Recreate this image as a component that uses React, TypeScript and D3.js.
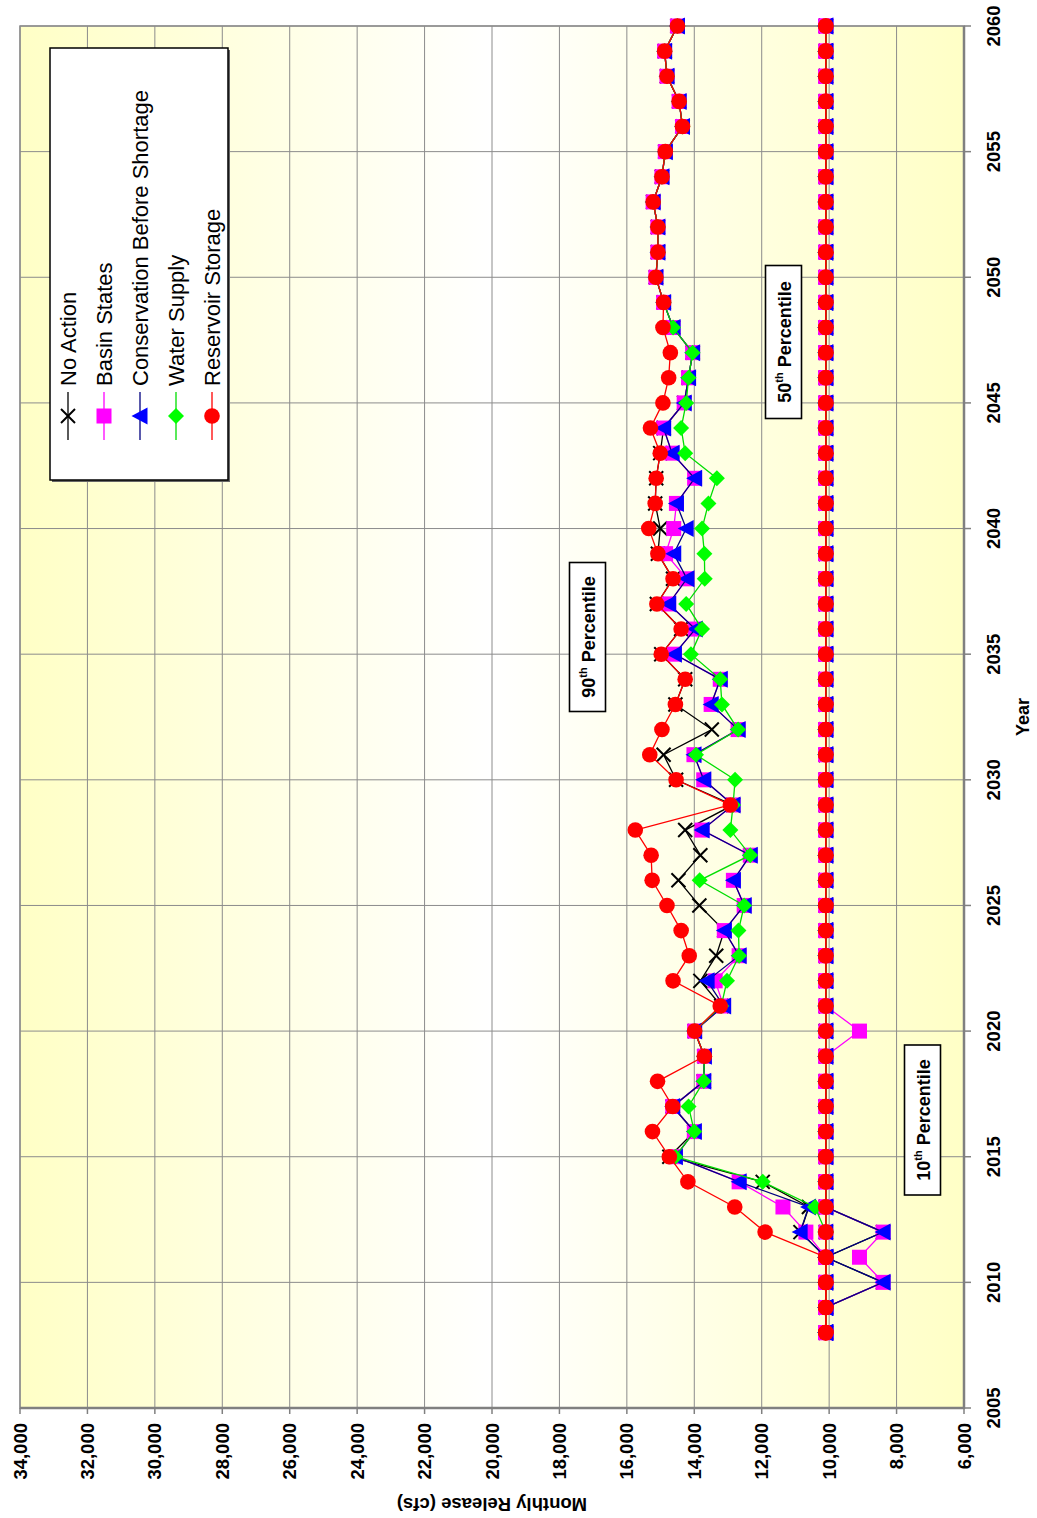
import React from 'react';
import * as d3 from 'd3';

const years = [2008, 2009, 2010, 2011, 2012, 2013, 2014, 2015, 2016, 2017, 2018, 2019, 2020, 2021, 2022, 2023, 2024, 2025, 2026, 2027, 2028, 2029, 2030, 2031, 2032, 2033, 2034, 2035, 2036, 2037, 2038, 2039, 2040, 2041, 2042, 2043, 2044, 2045, 2046, 2047, 2048, 2049, 2050, 2051, 2052, 2053, 2054, 2055, 2056, 2057, 2058, 2059, 2060];
const yearTicks = [2005, 2010, 2015, 2020, 2025, 2030, 2035, 2040, 2045, 2050, 2055, 2060];
const valueTicks = [6000, 8000, 10000, 12000, 14000, 16000, 18000, 20000, 22000, 24000, 26000, 28000, 30000, 32000, 34000];
const valueTickLabels = ['6,000', '8,000', '10,000', '12,000', '14,000', '16,000', '18,000', '20,000', '22,000', '24,000', '26,000', '28,000', '30,000', '32,000', '34,000'];
const seriesNames = ['No Action', 'Basin States', 'Conservation Before Shortage', 'Water Supply', 'Reservoir Storage'];

// 10th percentile
const noActionP10 = [10100, 10100, 8400, 10100, 8400, 10100, 10100, 10100, 10100, 10100, 10100, 10100, 10100, 10100, 10100, 10100, 10100, 10100, 10100, 10100, 10100, 10100, 10100, 10100, 10100, 10100, 10100, 10100, 10100, 10100, 10100, 10100, 10100, 10100, 10100, 10100, 10100, 10100, 10100, 10100, 10100, 10100, 10100, 10100, 10100, 10100, 10100, 10100, 10100, 10100, 10100, 10100, 10100];
const basinStatesP10 = [10100, 10100, 8400, 9100, 8400, 10100, 10100, 10100, 10100, 10100, 10100, 10100, 9100, 10100, 10100, 10100, 10100, 10100, 10100, 10100, 10100, 10100, 10100, 10100, 10100, 10100, 10100, 10100, 10100, 10100, 10100, 10100, 10100, 10100, 10100, 10100, 10100, 10100, 10100, 10100, 10100, 10100, 10100, 10100, 10100, 10100, 10100, 10100, 10100, 10100, 10100, 10100, 10100];
const conservationP10 = [10100, 10100, 8400, 10100, 8400, 10100, 10100, 10100, 10100, 10100, 10100, 10100, 10100, 10100, 10100, 10100, 10100, 10100, 10100, 10100, 10100, 10100, 10100, 10100, 10100, 10100, 10100, 10100, 10100, 10100, 10100, 10100, 10100, 10100, 10100, 10100, 10100, 10100, 10100, 10100, 10100, 10100, 10100, 10100, 10100, 10100, 10100, 10100, 10100, 10100, 10100, 10100, 10100];
const waterSupplyP10 = [10100, 10100, 10100, 10100, 10100, 10100, 10100, 10100, 10100, 10100, 10100, 10100, 10100, 10100, 10100, 10100, 10100, 10100, 10100, 10100, 10100, 10100, 10100, 10100, 10100, 10100, 10100, 10100, 10100, 10100, 10100, 10100, 10100, 10100, 10100, 10100, 10100, 10100, 10100, 10100, 10100, 10100, 10100, 10100, 10100, 10100, 10100, 10100, 10100, 10100, 10100, 10100, 10100];
const reservoirP10 = [10100, 10100, 10100, 10100, 10100, 10100, 10100, 10100, 10100, 10100, 10100, 10100, 10100, 10100, 10100, 10100, 10100, 10100, 10100, 10100, 10100, 10100, 10100, 10100, 10100, 10100, 10100, 10100, 10100, 10100, 10100, 10100, 10100, 10100, 10100, 10100, 10100, 10100, 10100, 10100, 10100, 10100, 10100, 10100, 10100, 10100, 10100, 10100, 10100, 10100, 10100, 10100, 10100];

// 50th percentile (same for every alternative)
const medianAll = [10100, 10100, 10100, 10100, 10100, 10100, 10100, 10100, 10100, 10100, 10100, 10100, 10100, 10100, 10100, 10100, 10100, 10100, 10100, 10100, 10100, 10100, 10100, 10100, 10100, 10100, 10100, 10100, 10100, 10100, 10100, 10100, 10100, 10100, 10100, 10100, 10100, 10100, 10100, 10100, 10100, 10100, 10100, 10100, 10100, 10100, 10100, 10100, 10100, 10100, 10100, 10100, 10100];

// 90th percentile
const noActionP90 = [10100, 10100, 10100, 10100, 10850, 10600, 11970, 14740, 14000, 14640, 13720, 13700, 13990, 13200, 13820, 13350, 13110, 13850, 14470, 13820, 14270, 12850, 14540, 14910, 13480, 14560, 14270, 14980, 14390, 15110, 14630, 15080, 15010, 15160, 15130, 15010, 14910, 14300, 14170, 14050, 14630, 14910, 15140, 15080, 15080, 15220, 14960, 14860, 14350, 14450, 14810, 14880, 14500];
const basinStatesP90 = [10100, 10100, 10100, 10100, 10690, 11370, 12670, 14560, 14000, 14640, 13720, 13700, 13990, 13130, 13380, 12670, 13110, 12520, 12840, 12340, 13770, 12850, 13720, 14010, 12700, 13500, 13230, 14590, 13970, 14760, 14220, 14850, 14610, 14530, 13990, 14660, 14910, 14300, 14170, 14050, 14630, 14910, 15140, 15080, 15080, 15220, 14960, 14860, 14350, 14450, 14810, 14880, 14500];
const conservationP90 = [10100, 10100, 10100, 10100, 10860, 10610, 12670, 14560, 14000, 14640, 13720, 13700, 13990, 13130, 13620, 12670, 13110, 12520, 12840, 12340, 13770, 12850, 13720, 14010, 12700, 13500, 13230, 14590, 13970, 14760, 14220, 14610, 14240, 14530, 13990, 14660, 14910, 14300, 14170, 14050, 14630, 14910, 15140, 15080, 15080, 15220, 14960, 14860, 14350, 14450, 14810, 14880, 14500];
const waterSupplyP90 = [10100, 10100, 10100, 10100, 10100, 10420, 11970, 14560, 14000, 14170, 13720, 13700, 13990, 13200, 13030, 12670, 12690, 12520, 13840, 12340, 12930, 12850, 12790, 13950, 12700, 13180, 13230, 14100, 13770, 14240, 13690, 13700, 13770, 13580, 13330, 14270, 14390, 14240, 14170, 14050, 14630, 14910, 15140, 15080, 15080, 15220, 14960, 14860, 14350, 14450, 14810, 14880, 14500];
const reservoirP90 = [10100, 10100, 10100, 10100, 11900, 12800, 14190, 14740, 15240, 14640, 15090, 13700, 13990, 13230, 14630, 14150, 14390, 14810, 15250, 15280, 15750, 12930, 14540, 15320, 14960, 14560, 14270, 14980, 14390, 15110, 14630, 15080, 15350, 15160, 15130, 15010, 15300, 14930, 14760, 14710, 14930, 14910, 15140, 15080, 15080, 15220, 14960, 14860, 14350, 14450, 14810, 14880, 14500];

const seriesData = [
  [noActionP10, medianAll, noActionP90],
  [basinStatesP10, medianAll, basinStatesP90],
  [conservationP10, medianAll, conservationP90],
  [waterSupplyP10, medianAll, waterSupplyP90],
  [reservoirP10, medianAll, reservoirP90],
];
const lineColors = ['#000000', '#FF00FF', '#000080', '#00DD00', '#FF0000'];
const markerColors = ['#000000', '#FF00FF', '#0000FF', '#00FF00', '#FF0000'];
const markerTypes = ['x', 'square', 'triangle', 'diamond', 'circle'];

const W = 1037;
const H = 1518;
const plot = { left: 20, right: 964, top: 26, bottom: 1408 };
const FONT = 'Arial, "Liberation Sans", Helvetica, sans-serif';

function Marker({ type, color, cx, cy }: { type: string; color: string; cx: number; cy: number }) {
  if (type === 'x') {
    const s = 7;
    return (
      <g stroke={color} strokeWidth={2}>
        <line x1={cx - s} y1={cy - s} x2={cx + s} y2={cy + s} />
        <line x1={cx - s} y1={cy + s} x2={cx + s} y2={cy - s} />
      </g>
    );
  }
  if (type === 'square') {
    return <rect x={cx - 7.5} y={cy - 7.5} width={15} height={15} fill={color} />;
  }
  if (type === 'triangle') {
    return <path d={`M${cx - 8.5},${cy} L${cx + 7.5},${cy - 8.5} L${cx + 7.5},${cy + 8.5} Z`} fill={color} />;
  }
  if (type === 'diamond') {
    return <path d={`M${cx},${cy - 8} L${cx + 8},${cy} L${cx},${cy + 8} L${cx - 8},${cy} Z`} fill={color} />;
  }
  return <circle cx={cx} cy={cy} r={7.8} fill={color} />;
}

function PercentileLabel({ cx, cy, num, w }: { cx: number; cy: number; num: string; w: number }) {
  const h = 36;
  return (
    <g transform={`translate(${cx},${cy}) rotate(-90)`}>
      <rect x={-w / 2} y={-h / 2} width={w} height={h} fill="#fff" stroke="#000" strokeWidth={1.6} />
      <text x={0} y={7} textAnchor="middle" fontFamily={FONT} fontWeight="bold" fontSize={18} fill="#000">
        {num}
        <tspan fontSize={11} dy={-8}>th</tspan>
        <tspan dy={8}> Percentile</tspan>
      </text>
    </g>
  );
}

export default function App() {
  const x = d3.scaleLinear().domain([34000, 6000]).range([plot.left, plot.right]);
  const y = d3.scaleLinear().domain([2005, 2060]).range([plot.bottom, plot.top]);
  const line = d3
    .line<number>()
    .x((v) => x(v))
    .y((_, i) => y(years[i]));

  return (
    <svg width={W} height={H} style={{ position: 'absolute', left: 0, top: 0, background: '#fff' }}>
      <defs>
        <linearGradient id="bg" x1="0" x2="1" y1="0" y2="0">
          <stop offset="0" stopColor="#FFFFC6" />
          <stop offset="0.5" stopColor="#FFFFFF" />
          <stop offset="1" stopColor="#FFFFC6" />
        </linearGradient>
        <clipPath id="plotClip">
          <rect x={plot.left - 12} y={plot.top - 12} width={plot.right - plot.left + 24} height={plot.bottom - plot.top + 24} />
        </clipPath>
      </defs>
      <rect x={plot.left} y={plot.top} width={plot.right - plot.left} height={plot.bottom - plot.top} fill="url(#bg)" />
      {valueTicks.map((v) => (
        <line key={'gv' + v} x1={x(v)} x2={x(v)} y1={plot.top} y2={plot.bottom} stroke="#8c8c8c" strokeWidth={1} />
      ))}
      {yearTicks.map((yr) => (
        <line key={'gy' + yr} x1={plot.left} x2={plot.right} y1={y(yr)} y2={y(yr)} stroke="#8c8c8c" strokeWidth={1} />
      ))}
      <rect x={plot.left} y={plot.top} width={plot.right - plot.left} height={plot.bottom - plot.top} fill="none" stroke="#8c8c8c" strokeWidth={1.5} />
      <line x1={plot.left} x2={plot.right + 1} y1={plot.bottom} y2={plot.bottom} stroke="#808080" strokeWidth={2.5} />
      <line x1={plot.right} x2={plot.right} y1={plot.top} y2={plot.bottom + 1} stroke="#808080" strokeWidth={2.5} />
      {valueTicks.map((v) => (
        <line key={'tv' + v} x1={x(v)} x2={x(v)} y1={plot.bottom} y2={plot.bottom + 6} stroke="#808080" strokeWidth={1.5} />
      ))}
      {yearTicks.map((yr) => (
        <line key={'ty' + yr} x1={plot.right} x2={plot.right + 7} y1={y(yr)} y2={y(yr)} stroke="#808080" strokeWidth={1.5} />
      ))}
      {valueTicks.map((v, i) => (
        <text key={'lv' + v} transform={`translate(${x(v)},1423) rotate(-90)`} textAnchor="end" dominantBaseline="central" fontFamily={FONT} fontWeight="bold" fontSize={18.5} fill="#000">
          {valueTickLabels[i]}
        </text>
      ))}
      {yearTicks.map((yr) => (
        <text key={'ly' + yr} transform={`translate(993,${y(yr)}) rotate(-90)`} textAnchor="middle" dominantBaseline="central" fontFamily={FONT} fontWeight="bold" fontSize={18.5} fill="#000">
          {yr}
        </text>
      ))}
      <text transform="translate(1023,717) rotate(-90)" textAnchor="middle" dominantBaseline="central" fontFamily={FONT} fontWeight="bold" fontSize={18} fill="#000">
        Year
      </text>
      <text transform="translate(492,1504) rotate(180)" textAnchor="middle" dominantBaseline="central" fontFamily={FONT} fontWeight="bold" fontSize={18.5} fill="#000">
        Monthly Release (cfs)
      </text>
      <g clipPath="url(#plotClip)">
        {seriesData.map((group, si) => (
          <g key={'s' + si}>
            {group.map((vals, pi) => (
              <path key={'l' + pi} d={line(vals) || ''} fill="none" stroke={lineColors[si]} strokeWidth={1.3} />
            ))}
            {group.map((vals, pi) =>
              vals.map((v, i) => (
                <Marker key={'m' + pi + '-' + i} type={markerTypes[si]} color={markerColors[si]} cx={x(v)} cy={y(years[i])} />
              ))
            )}
          </g>
        ))}
      </g>
      <PercentileLabel cx={587.5} cy={637} num="90" w={149} />
      <PercentileLabel cx={783.5} cy={342} num="50" w={153} />
      <PercentileLabel cx={922.5} cy={1120} num="10" w={150} />
      <rect x={52} y={50} width={178} height={432} fill="#666" />
      <rect x={50} y={48} width={178} height={432} fill="#fff" stroke="#000" strokeWidth={1.5} />
      {seriesNames.map((name, i) => {
        const lx = 68 + i * 36;
        return (
          <g key={'lg' + i}>
            <line x1={lx} x2={lx} y1={392} y2={440} stroke={lineColors[i]} strokeWidth={1.3} />
            <Marker type={markerTypes[i]} color={markerColors[i]} cx={lx} cy={416} />
            <text transform={`translate(${lx},386) rotate(-90)`} textAnchor="start" dominantBaseline="central" fontFamily={FONT} fontSize={22} fill="#000">
              {name}
            </text>
          </g>
        );
      })}
    </svg>
  );
}
